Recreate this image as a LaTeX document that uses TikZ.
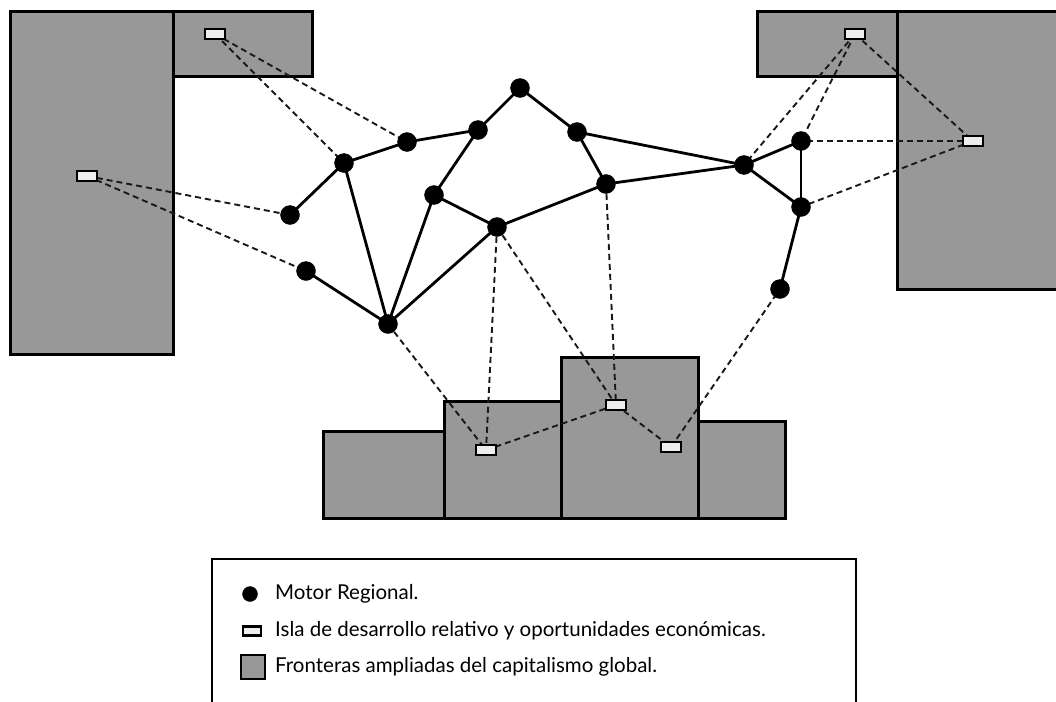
\documentclass[tikz,border=0pt]{standalone}
\usepackage{fontspec}
\setmainfont{Lato}
\begin{document}
\begin{tikzpicture}[x=1pt,y=-1pt]
\definecolor{frontgray}{RGB}{152,152,152}
\definecolor{islafill}{RGB}{238,238,238}
\tikzset{
  frontera/.style={draw=black, line width=3pt, fill=frontgray},
  motor/.style={circle, fill=black, draw=black, inner sep=0pt, minimum size=19pt},
  isla/.style={rectangle, draw=black, line width=2.4pt, fill=islafill, inner sep=0pt, minimum width=20pt, minimum height=10pt},
  enlace/.style={draw=black, line width=2.8pt},
  vinculo/.style={draw=black!90, line width=1.9pt, dash pattern=on 6pt off 4pt},
  leyenda/.style={font=\fontsize{20.5}{22}\selectfont, anchor=west, inner sep=0pt},
}
\useasboundingbox (0,0) rectangle (1056,701);
\fill[white] (0,0) rectangle (1056,701);
% Fronteras
\path[frontera] (10,12) rectangle (173,354);
\path[frontera] (173,12) rectangle (312,76);
\path[frontera] (757,12) rectangle (897,76);
\path[frontera] (897,12) rectangle (1058,289);
\path[frontera] (323,431) rectangle (444,518);
\path[frontera] (444,401) rectangle (561,518);
\path[frontera] (561,357) rectangle (698,518);
\path[frontera] (698,421) rectangle (785,518);
% Motores (coordinates)
\coordinate (c1) at (520,88);
\coordinate (c2) at (478,130);
\coordinate (c3) at (407,142);
\coordinate (c4) at (344,163);
\coordinate (c5) at (290,215);
\coordinate (c6) at (306,271);
\coordinate (c7) at (388,324);
\coordinate (c8) at (434,195);
\coordinate (c9) at (497,227);
\coordinate (c10) at (577,132);
\coordinate (c11) at (606,184);
\coordinate (c12) at (744,165);
\coordinate (c13) at (801,141);
\coordinate (c14) at (801,207);
\coordinate (c15) at (780,289);
% Islas
\coordinate (iTL) at (215,34);
\coordinate (iL) at (87,176);
\coordinate (iTR) at (855,34);
\coordinate (iR) at (973,141);
\coordinate (iB1) at (486,450);
\coordinate (iB2) at (616,405);
\coordinate (iB3) at (671,447);
% Vinculos discontinuos
\draw[vinculo] (iTL) -- (c3);
\draw[vinculo] (iTL) -- (c4);
\draw[vinculo] (iL) -- (c5);
\draw[vinculo] (iL) -- (c6);
\draw[vinculo] (iTR) -- (c12);
\draw[vinculo] (iTR) -- (c13);
\draw[vinculo] (iTR) -- (iR);
\draw[vinculo] (iR) -- (c13);
\draw[vinculo] (iR) -- (c14);
\draw[vinculo] (c7) -- (iB1);
\draw[vinculo] (c9) -- (iB1);
\draw[vinculo] (c9) -- (iB2);
\draw[vinculo] (c11) -- (iB2);
\draw[vinculo] (iB1) -- (iB2);
\draw[vinculo] (iB2) -- (iB3);
\draw[vinculo] (iB3) -- (c15);
% Nodos isla
\foreach \n in {iTL,iL,iTR,iR,iB1,iB2,iB3} \node[isla] (N\n) at (\n) {};
% Enlaces
\foreach \a/\b in {c1/c2,c1/c10,c2/c3,c3/c4,c4/c5,c4/c7,c2/c8,c8/c7,c8/c9,c9/c7,c6/c7,c9/c11,c10/c11,c10/c12,c11/c12,c12/c13,c12/c14,c13/c14,c14/c15}
  \draw[enlace] (\a) -- (\b);
\foreach \n in {c1,c2,c3,c4,c5,c6,c7,c8,c9,c10,c11,c12,c13,c14,c15} \node[motor] (N\n) at (\n) {};
% Leyenda
\draw[line width=1.4pt] (212,705) -- (212,559) -- (856,559) -- (856,705);
\node[motor, minimum size=15pt] (lm) at (250,594) {};
\node[isla, minimum width=18pt, minimum height=9pt] (li) at (252,631) {};
\node[frontera, rectangle, minimum size=24pt, inner sep=0pt, line width=2.6pt] (lf) at (253,667) {};
\node[leyenda] (tm) at (275,594) {Motor Regional.};
\node[leyenda] (ti) at (275,631) {Isla de desarrollo relativo y oportunidades económicas.};
\node[leyenda] (tf) at (275,667) {Fronteras ampliadas del capitalismo global.};
\end{tikzpicture}
\end{document}
